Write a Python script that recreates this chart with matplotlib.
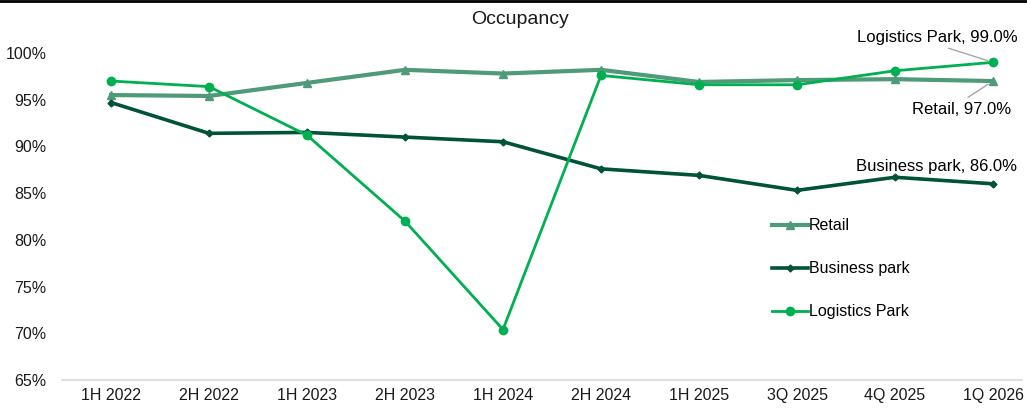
import numpy as np
import matplotlib.pyplot as plt
from matplotlib.ticker import PercentFormatter
from matplotlib.lines import Line2D

plt.rcParams['font.family'] = ['Liberation Sans', 'DejaVu Sans']

periods = ['1H 2022', '2H 2022', '1H 2023', '2H 2023', '1H 2024',
           '2H 2024', '1H 2025', '3Q 2025', '4Q 2025', '1Q 2026']
retail = [95.5, 95.4, 96.8, 98.2, 97.8, 98.2, 96.9, 97.1, 97.2, 97.0]
business = [94.7, 91.4, 91.5, 91.0, 90.5, 87.6, 86.9, 85.3, 86.7, 86.0]
logistics = [97.0, 96.4, 91.2, 82.0, 70.4, 97.6, 96.6, 96.6, 98.1, 99.0]

c_retail = '#4f9a78'
c_business = '#00533a'
c_logistics = '#00b050'

fig = plt.figure(figsize=(10.27, 4.11), dpi=100)
ax = fig.add_axes([62/1027, 1 - 380/411, 960/1027, (380 - 53)/411])

x = np.arange(len(periods))
ax.plot(x, retail, color=c_retail, lw=3, marker='^', ms=6, label='Retail')
ax.plot(x, business, color=c_business, lw=2.6, marker='D', ms=3.5, label='Business park')
ax.plot(x, logistics, color=c_logistics, lw=2, marker='o', ms=6, label='Logistics Park')

ax.set_ylim(65, 100)
ax.set_xlim(-0.5, -0.5 + 960/98)
ax.set_yticks(np.arange(65, 101, 5))
ax.yaxis.set_major_formatter(PercentFormatter(decimals=0))
ax.set_xticks(x)
ax.set_xticklabels(periods)
ax.tick_params(length=0, labelsize=11.5, colors='#1a1a1a')
ax.tick_params(axis='y', pad=11)
ax.tick_params(axis='x', pad=6)
for s in ['top', 'right', 'left']:
    ax.spines[s].set_visible(False)
ax.spines['bottom'].set_color('#d9d9d9')
ax.spines['bottom'].set_linewidth(1.2)

fig.text(520/1027, 1 - 19/411, 'Occupancy', ha='center', va='center', fontsize=14, color='#1a1a1a')
fig.add_artist(Line2D([0, 1], [0.997, 0.997], color='black', lw=2))

last = len(periods) - 1
ax.annotate('Logistics Park, %.1f%%' % logistics[-1], xy=(last, logistics[-1]),
            xytext=(last - 0.57, 101.7), ha='center', va='center', fontsize=12,
            arrowprops=dict(arrowstyle='-', color='#a6a6a6', lw=1, relpos=(0.5, 0),
                            shrinkA=2, shrinkB=4),
            annotation_clip=False)
ax.annotate('Retail, %.1f%%' % retail[-1], xy=(last, retail[-1]),
            xytext=(last - 0.32, 94.0), ha='center', va='center', fontsize=12,
            arrowprops=dict(arrowstyle='-', color='#a6a6a6', lw=1, relpos=(0.5, 1),
                            shrinkA=2, shrinkB=4),
            annotation_clip=False)
ax.annotate('Business park, %.1f%%' % business[-1], xy=(last, business[-1]),
            xytext=(last - 0.58, 87.8), ha='center', va='center', fontsize=12,
            annotation_clip=False)

ax.legend(loc='center left', bbox_to_anchor=(696/960, 0.34), frameon=False,
          fontsize=11.5, labelspacing=1.75, handlelength=2.2, handletextpad=0.1)

fig.savefig('out.png', dpi=100)
